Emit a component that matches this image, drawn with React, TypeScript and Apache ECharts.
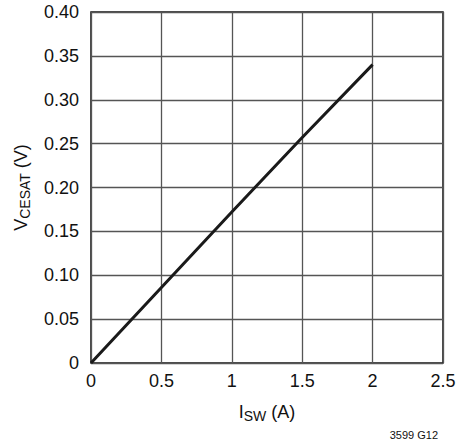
import React, { useEffect, useRef } from "react";
import * as echarts from "echarts";

const isw = [0, 0.5, 1, 1.5, 2];
const vcesat = [0, 0.086, 0.172, 0.257, 0.34];
const FONT = "'Liberation Sans Narrow', 'Liberation Sans', Arial, sans-serif";

export default function App() {
  const ref = useRef<HTMLDivElement>(null);
  useEffect(() => {
    document.body.style.margin = "0";
    const chart = echarts.init(ref.current!, undefined, { renderer: "svg" });
    chart.setOption({
      animation: false,
      backgroundColor: "#ffffff",
      grid: { left: 91, top: 12, right: 27, bottom: 81, show: true, borderColor: "#111", borderWidth: 1.5 },
      xAxis: {
        type: "value",
        min: 0,
        max: 2.5,
        interval: 0.5,
        axisLine: { show: false },
        axisTick: { show: false },
        splitLine: { show: true, lineStyle: { color: "#555", width: 1.3 } },
        axisLabel: { color: "#111", fontSize: 18, fontFamily: FONT, margin: 9 },
        name: "{m|I}{s|SW}{m| (A)}",
        nameLocation: "middle",
        nameGap: 40,
        nameTextStyle: {
          rich: {
            m: { fontSize: 18, fontFamily: FONT, color: "#111", verticalAlign: "top", lineHeight: 20 },
            s: { fontSize: 14, fontFamily: FONT, color: "#111", verticalAlign: "top", padding: [6, 0, 0, 0], lineHeight: 20 },
          },
        },
      },
      yAxis: {
        type: "value",
        min: 0,
        max: 0.4,
        interval: 0.05,
        axisLine: { show: false },
        axisTick: { show: false },
        splitLine: { show: true, lineStyle: { color: "#555", width: 1.3 } },
        axisLabel: {
          color: "#111",
          fontSize: 18,
          fontFamily: FONT,
          margin: 12,
          formatter: (v: number) => (v === 0 ? "0" : v.toFixed(2)),
        },
        name: "{m|V}{s|CESAT}{m| (V)}",
        nameLocation: "middle",
        nameGap: 59,
        nameTextStyle: {
          rich: {
            m: { fontSize: 18, fontFamily: FONT, color: "#111", verticalAlign: "top", lineHeight: 20 },
            s: { fontSize: 14, fontFamily: FONT, color: "#111", verticalAlign: "top", padding: [6, 0, 0, 0], lineHeight: 20 },
          },
        },
      },
      graphic: [
        {
          type: "text",
          right: 32,
          top: 429,
          style: { text: "3599 G12", fontSize: 11, fontFamily: FONT, fill: "#111" },
        },
      ],
      series: [
        {
          type: "line",
          data: isw.map((x, i) => [x, vcesat[i]]),
          showSymbol: false,
          lineStyle: { color: "#1a1a1a", width: 3 },
        },
      ],
    });
    return () => chart.dispose();
  }, []);
  return <div ref={ref} style={{ width: 470, height: 444 }} />;
}
